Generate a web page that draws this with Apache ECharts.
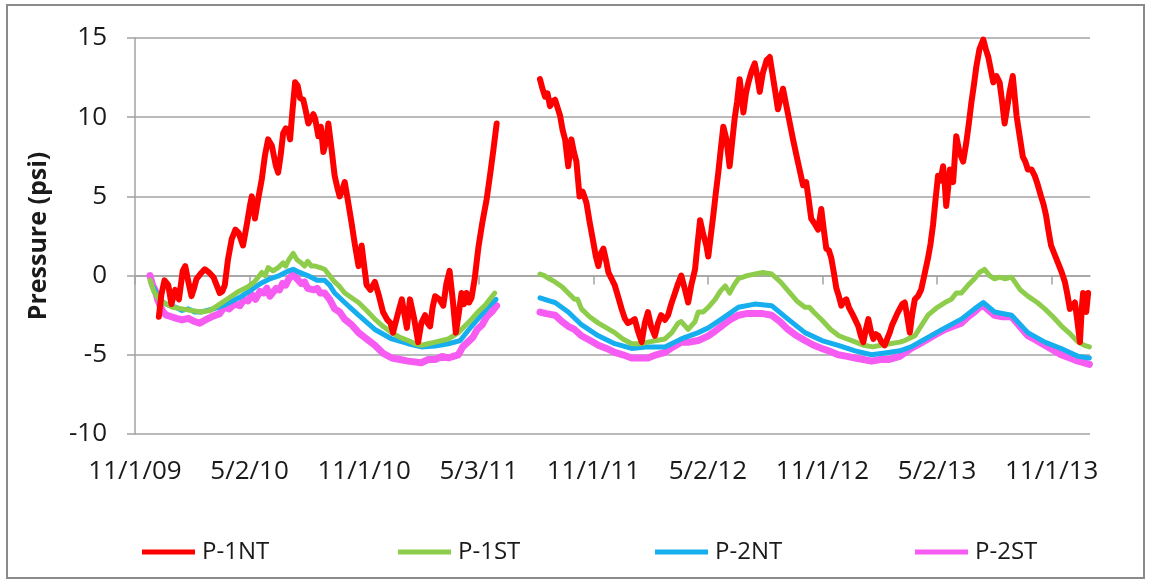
<!DOCTYPE html>
<html>
<head>
<meta charset="utf-8">
<script src="https://cdn.jsdelivr.net/npm/echarts@6/dist/echarts.min.js"></script>
<style>
html,body{margin:0;padding:0;background:#fff}
#chart{width:1149px;height:582px}
</style>
</head>
<body>
<div id="chart"></div>
<script>
// x values are days counted from 11/1/09
var tickDays = [0, 182.5, 365, 547.5, 730, 912.5, 1095, 1277.5, 1460];
var tickLabels = ['11/1/09', '5/2/10', '11/1/10', '5/3/11', '11/1/11', '5/2/12', '11/1/12', '5/2/13', '11/1/13'];
var seriesNames = ['P-1NT', 'P-1ST', 'P-2NT', 'P-2ST'];

// P-1NT  [day, psi], null = no data (gap in mid 2011)
var p1nt = [
  [38,-2.6],[42,-1.2],[47,-0.3],[53,-0.6],[58,-1.8],[64,-0.9],[70,-1.5],[76,0.3],[80,0.6],[85,-0.4],
  [90,-1.3],[94,-0.8],[98,-0.2],[104,0.1],[111,0.4],[118,0.2],[125,-0.1],[130,-0.6],[135,-1.1],[139,-1.0],
  [143,-0.6],[148,1.0],[154,2.3],[160,2.9],[165,2.7],[172,1.9],[178,3.2],[183,4.4],[186,5.0],[191,3.6],
  [196,4.8],[202,6.1],[207,7.6],[212,8.6],[218,8.2],[224,7.0],[228,6.5],[232,7.6],[236,9.0],[240,9.3],
  [244,9.2],[247,8.6],[251,10.5],[255,12.2],[259,12.0],[263,11.2],[268,11.1],[272,10.4],[276,9.6],[280,9.9],
  [284,10.2],[287,9.9],[292,8.8],[296,9.4],[300,7.8],[304,8.4],[308,9.6],[313,8.0],[318,6.3],[322,5.6],
  [326,5.0],[330,5.4],[334,5.9],[338,5.0],[345,3.3],[350,2.0],[356,0.6],[361,1.9],[365,0.6],[369,-0.6],
  [375,-0.9],[382,-0.4],[388,-1.2],[395,-2.3],[402,-2.8],[407,-3.0],[411,-3.6],[418,-2.5],[425,-1.5],[429,-2.4],
  [433,-3.3],[438,-1.5],[444,-2.6],[451,-4.2],[456,-3.0],[462,-2.5],[466,-3.0],[470,-3.2],[474,-2.0],[478,-1.3],
  [485,-1.5],[491,-1.9],[496,-0.5],[501,0.3],[506,-1.5],[511,-3.6],[516,-2.3],[520,-1.1],[524,-1.8],[528,-1.1],
  [532,-1.7],[536,-1.4],[541,-0.2],[544,0.8],[547,1.8],[553,3.3],[560,4.8],[566,6.5],[571,8.0],[576,9.6],
  [610,null],
  [645,12.4],[649,11.8],[653,11.3],[657,11.5],[661,10.7],[665,11.0],[669,11.1],[673,10.6],[677,10.1],[681,9.2],
  [685,8.6],[690,6.9],[695,8.6],[699,7.8],[703,7.2],[708,5.0],[713,5.3],[719,4.6],[724,3.4],[730,2.1],
  [734,1.2],[738,0.6],[742,1.4],[746,1.7],[750,1.0],[754,0.2],[759,-0.2],[764,-0.6],[770,-1.4],[775,-2.1],
  [780,-2.7],[785,-3.0],[790,-2.9],[796,-2.75],[801,-3.5],[807,-4.2],[812,-3.0],[817,-2.3],[822,-3.2],[828,-3.8],
  [833,-3.0],[838,-2.5],[844,-2.8],[849,-2.5],[854,-1.8],[860,-1.1],[865,-0.5],[870,0.0],[876,-0.9],[881,-1.7],
  [886,-0.6],[892,0.4],[896,2.0],[900,3.5],[905,2.6],[910,1.9],[913,1.2],[917,2.5],[921,3.8],[925,5.2],
  [929,6.5],[933,8.0],[937,9.4],[942,8.6],[947,6.9],[951,8.4],[955,9.9],[959,11.0],[963,12.4],[966,11.4],
  [969,10.3],[973,11.5],[977,12.2],[982,12.9],[987,13.4],[991,12.6],[995,11.6],[1000,12.8],[1006,13.6],[1011,13.8],
  [1015,12.8],[1019,11.8],[1024,10.5],[1028,11.2],[1032,11.8],[1037,10.8],[1043,9.6],[1048,8.6],[1054,7.5],[1059,6.6],
  [1064,5.7],[1069,5.9],[1073,4.8],[1077,3.6],[1082,3.3],[1088,2.9],[1093,4.2],[1097,2.9],[1101,1.7],[1105,1.6],
  [1109,1.1],[1113,0.2],[1117,-0.8],[1121,-1.3],[1125,-1.9],[1129,-1.6],[1133,-1.5],[1137,-2.0],[1141,-2.3],[1146,-2.7],
  [1152,-3.2],[1156,-3.8],[1160,-4.2],[1164,-3.4],[1168,-2.75],[1172,-3.5],[1176,-4.0],[1180,-3.7],[1184,-3.8],[1189,-4.2],
  [1194,-4.4],[1198,-4.0],[1202,-3.6],[1206,-3.1],[1210,-2.75],[1214,-2.4],[1218,-2.1],[1222,-1.8],[1226,-1.7],[1230,-2.6],
  [1234,-3.6],[1238,-2.4],[1242,-1.5],[1247,-1.3],[1252,-0.9],[1257,0.0],[1263,1.1],[1267,2.0],[1271,3.2],[1275,4.8],
  [1279,6.3],[1283,6.0],[1287,6.9],[1290,5.6],[1292,4.4],[1295,5.5],[1298,6.7],[1303,5.9],[1308,8.8],[1313,7.8],
  [1319,7.2],[1324,8.4],[1328,9.6],[1332,10.9],[1336,12.0],[1340,13.2],[1345,14.3],[1351,14.9],[1355,14.3],[1359,13.8],
  [1363,13.0],[1367,12.2],[1372,12.6],[1377,12.2],[1381,11.0],[1385,9.6],[1389,10.6],[1393,11.6],[1398,12.6],[1404,10.1],
  [1409,8.8],[1414,7.5],[1418,7.2],[1422,6.7],[1428,6.7],[1433,6.3],[1438,5.7],[1443,5.0],[1447,4.5],[1451,3.8],
  [1455,2.8],[1459,1.9],[1465,1.3],[1470,0.8],[1476,0.2],[1481,-0.4],[1485,-1.2],[1489,-2.1],[1493,-1.9],[1497,-1.7],
  [1501,-2.9],[1505,-4.2],[1508,-2.0],[1510,-1.1],[1513,-1.8],[1515,-2.3],[1518,-1.1]
];

// P-1ST
var p1st = [
  [24,-0.3],[30,-1.0],[38,-1.5],[50,-1.8],[60,-2.0],[75,-2.1],[90,-2.2],[105,-2.3],[120,-2.2],[135,-1.8],
  [150,-1.4],[165,-1.0],[180,-0.7],[190,-0.4],[196,-0.1],[202,0.2],[207,0.0],[212,0.5],[220,0.3],[228,0.5],
  [236,0.8],[240,0.6],[245,1.0],[252,1.4],[258,1.0],[265,0.8],[270,0.6],[275,0.9],[281,0.6],[287,0.6],
  [295,0.5],[302,0.4],[310,0.0],[318,-0.4],[326,-0.7],[334,-1.1],[345,-1.4],[356,-1.7],[369,-2.2],[382,-2.75],
  [395,-3.2],[409,-3.6],[422,-3.9],[435,-4.1],[446,-4.3],[456,-4.4],[467,-4.3],[478,-4.2],[489,-4.1],[499,-4.0],
  [507,-3.8],[515,-3.6],[525,-3.2],[536,-2.75],[546,-2.3],[557,-1.9],[565,-1.5],[573,-1.1],
  [610,null],
  [645,0.1],[652,0.0],[660,-0.2],[669,-0.4],[680,-0.7],[690,-1.1],[700,-1.5],[705,-1.5],[711,-2.1],[724,-2.6],
  [738,-3.0],[751,-3.3],[764,-3.6],[777,-4.0],[791,-4.3],[804,-4.3],[817,-4.2],[830,-4.1],[844,-4.0],[855,-3.6],
  [865,-3.0],[870,-2.9],[881,-3.4],[892,-2.9],[897,-2.3],[905,-2.3],[913,-2.0],[924,-1.5],[932,-1.0],[940,-0.65],
  [947,-1.1],[954,-0.6],[961,-0.2],[975,0.0],[988,0.1],[1000,0.2],[1014,0.1],[1028,-0.4],[1041,-1.0],[1054,-1.6],
  [1067,-2.0],[1074,-2.0],[1081,-2.3],[1094,-2.8],[1108,-3.4],[1121,-3.8],[1134,-4.0],[1148,-4.2],[1161,-4.4],[1175,-4.5],
  [1188,-4.4],[1202,-4.3],[1218,-4.2],[1226,-4.1],[1242,-3.8],[1263,-2.5],[1278,-2.0],[1290,-1.7],[1300,-1.5],[1308,-1.1],
  [1316,-1.1],[1327,-0.6],[1337,-0.2],[1345,0.2],[1353,0.4],[1361,0.0],[1369,-0.2],[1377,-0.1],[1386,-0.2],[1396,-0.1],
  [1410,-0.9],[1422,-1.3],[1437,-1.7],[1449,-2.1],[1462,-2.6],[1476,-3.2],[1490,-3.7],[1502,-4.2],[1512,-4.4],[1520,-4.5]
];

// P-2NT
var p2nt = [
  [30,-0.8],[38,-1.4],[45,-1.7],[55,-1.9],[65,-2.0],[75,-2.2],[85,-2.1],[95,-2.3],[105,-2.3],[115,-2.2],
  [125,-2.1],[140,-1.9],[155,-1.6],[170,-1.3],[185,-0.9],[200,-0.5],[215,-0.2],[230,0.0],[245,0.3],[252,0.4],
  [262,0.2],[275,0.0],[290,-0.3],[302,-0.3],[310,-0.6],[318,-1.1],[334,-1.7],[356,-2.5],[382,-3.4],[409,-4.0],
  [435,-4.3],[456,-4.5],[478,-4.45],[499,-4.3],[518,-4.1],[536,-3.2],[549,-2.6],[562,-2.0],[575,-1.5],
  [610,null],
  [645,-1.4],[660,-1.6],[669,-1.7],[690,-2.3],[711,-3.1],[738,-3.8],[764,-4.3],[791,-4.6],[817,-4.5],[844,-4.5],
  [870,-4.0],[897,-3.6],[913,-3.3],[934,-2.75],[961,-2.0],[987,-1.8],[1014,-1.9],[1040,-2.75],[1067,-3.6],[1094,-4.1],
  [1120,-4.4],[1147,-4.75],[1173,-5.0],[1200,-4.85],[1218,-4.75],[1236,-4.5],[1263,-3.9],[1290,-3.3],[1316,-2.75],[1337,-2.1],
  [1351,-1.7],[1369,-2.3],[1396,-2.5],[1422,-3.6],[1449,-4.2],[1475,-4.6],[1502,-5.1],[1520,-5.2]
];

// P-2ST
var p2st = [
  [24,0.0],[28,-0.6],[32,-0.9],[36,-1.5],[40,-1.9],[45,-2.3],[50,-2.5],[58,-2.6],[66,-2.7],[75,-2.8],
  [85,-2.7],[95,-2.9],[103,-3.0],[112,-2.8],[122,-2.6],[135,-2.4],[142,-2.0],[150,-2.1],[158,-1.8],[167,-1.9],
  [174,-1.5],[180,-1.6],[186,-1.2],[192,-1.5],[199,-1.0],[205,-1.1],[210,-0.8],[215,-1.3],[225,-0.8],[230,-0.9],
  [235,-0.5],[240,-0.6],[245,-0.2],[252,0.1],[258,-0.2],[265,-0.5],[270,-0.4],[275,-0.8],[285,-0.9],[290,-0.8],
  [295,-1.1],[302,-1.1],[310,-1.5],[318,-2.1],[326,-2.3],[334,-2.75],[345,-3.1],[356,-3.6],[369,-4.0],[382,-4.4],
  [395,-4.9],[409,-5.2],[422,-5.3],[435,-5.4],[456,-5.5],[467,-5.3],[478,-5.3],[489,-5.1],[499,-5.2],[507,-5.1],
  [515,-5.0],[522,-4.5],[530,-4.2],[538,-3.9],[545,-3.4],[553,-3.1],[560,-2.6],[568,-2.3],[576,-1.9],
  [610,null],
  [645,-2.3],[655,-2.4],[669,-2.5],[680,-2.9],[690,-3.2],[700,-3.4],[711,-3.8],[725,-4.1],[738,-4.4],[751,-4.6],
  [764,-4.85],[777,-5.0],[791,-5.2],[804,-5.2],[817,-5.2],[830,-5.0],[844,-4.85],[857,-4.5],[870,-4.2],[883,-4.2],
  [897,-4.1],[913,-3.8],[924,-3.5],[934,-3.2],[947,-2.8],[961,-2.5],[974,-2.4],[987,-2.4],[1000,-2.4],[1014,-2.5],
  [1027,-2.9],[1040,-3.4],[1054,-3.8],[1067,-4.1],[1081,-4.4],[1094,-4.6],[1108,-4.8],[1120,-5.0],[1134,-5.1],[1147,-5.2],
  [1160,-5.3],[1173,-5.4],[1187,-5.3],[1200,-5.3],[1218,-5.1],[1236,-4.6],[1250,-4.3],[1263,-4.0],[1276,-3.7],[1290,-3.4],
  [1303,-3.2],[1316,-3.0],[1327,-2.6],[1337,-2.3],[1345,-2.0],[1351,-1.9],[1360,-2.2],[1369,-2.5],[1382,-2.6],[1396,-2.6],
  [1409,-3.2],[1422,-3.8],[1436,-4.1],[1449,-4.4],[1462,-4.7],[1475,-5.0],[1489,-5.2],[1502,-5.4],[1511,-5.5],[1520,-5.6]
];

var FONT = '"Open Sans", "Liberation Sans", sans-serif';
var gridGray = '#a3a3a3';

function lineSeries(name, data, color, width, z) {
    return {
        name: name,
        type: 'line',
        data: data,
        symbol: 'none',
        showSymbol: false,
        connectNulls: false,
        z: z,
        color: color,
        lineStyle: { color: color, width: width, join: 'round', cap: 'round' }
    };
}

function legendAt(name, left) {
    return {
        data: [name],
        left: left,
        top: 535,
        icon: 'rect',
        itemWidth: 53,
        itemHeight: 5,
        itemGap: 0,
        textStyle: { fontFamily: FONT, fontSize: 24, color: '#1a1a1a', padding: [0, 0, 0, 2] }
    };
}

var chart = echarts.init(document.getElementById('chart'));
chart.setOption({
    animation: false,
    backgroundColor: '#fff',
    graphic: [{
        type: 'rect',
        shape: { x: 7, y: 5, width: 1137, height: 573 },
        style: { fill: 'none', stroke: '#8a8a8a', lineWidth: 2 },
        silent: true
    }],
    legend: [
        legendAt(seriesNames[0], 137),
        legendAt(seriesNames[1], 393),
        legendAt(seriesNames[2], 650),
        legendAt(seriesNames[3], 910)
    ],
    grid: { left: 135, top: 38, right: 59, bottom: 148 },
    xAxis: {
        type: 'value',
        min: 0,
        max: 1521,
        interval: 182.5,
        axisLine: { lineStyle: { color: gridGray, width: 1.5 } },
        axisTick: { show: true, length: 9, customValues: tickDays, lineStyle: { color: gridGray, width: 1.5 } },
        splitLine: { show: false },
        axisLabel: {
            customValues: tickDays,
            margin: 25,
            fontFamily: FONT,
            fontSize: 26,
            color: '#1a1a1a',
            formatter: function (v) {
                var i = Math.round(v / 182.5);
                return Math.abs(v - i * 182.5) < 0.01 && tickLabels[i] ? tickLabels[i] : '';
            }
        }
    },
    yAxis: {
        type: 'value',
        min: -10,
        max: 15,
        interval: 5,
        name: 'Pressure (psi)',
        nameLocation: 'middle',
        nameRotate: 90,
        nameGap: 84,
        nameTextStyle: { fontFamily: FONT, fontSize: 25, fontWeight: 'bold', color: '#1a1a1a' },
        axisLine: { show: true, lineStyle: { color: gridGray, width: 1.5 } },
        axisTick: { show: true, length: 8, lineStyle: { color: gridGray, width: 1.5 } },
        splitLine: { lineStyle: { color: gridGray, width: 1.5 } },
        axisLabel: { margin: 28, fontFamily: FONT, fontSize: 26, color: '#1a1a1a' }
    },
    series: [
        lineSeries(seriesNames[3], p2st, '#f75cf2', 7, 2),
        lineSeries(seriesNames[2], p2nt, '#16aeee', 5, 3),
        lineSeries(seriesNames[1], p1st, '#8dcd4b', 5, 4),
        lineSeries(seriesNames[0], p1nt, '#ff0000', 6, 5)
    ]
});
</script>
</body>
</html>
